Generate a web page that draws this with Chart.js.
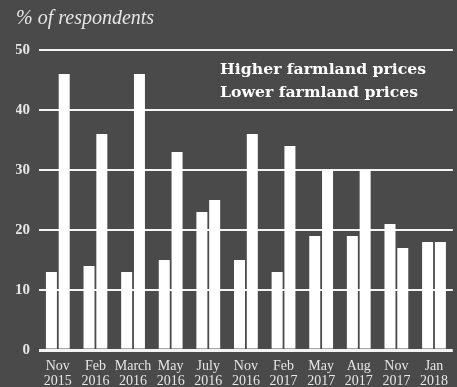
<!DOCTYPE html>
<html>
<head>
<meta charset="utf-8">
<script src="https://cdn.jsdelivr.net/npm/chart.js@4"></script>
<style>
  html, body { margin: 0; padding: 0; background: #4a4a4a; }
  #wrap { width: 457px; height: 387px; }
</style>
</head>
<body>
<div id="wrap"><canvas id="farm"></canvas></div>
<script>
// survey dates
const months = [
  ["Nov", "2015"], ["Feb", "2016"], ["March", "2016"], ["May", "2016"],
  ["July", "2016"], ["Nov", "2016"], ["Feb", "2017"], ["May", "2017"],
  ["Aug", "2017"], ["Nov", "2017"], ["Jan", "2018"],
];
// % of respondents
const higherPrices = [13, 14, 13, 15, 23, 15, 13, 19, 19, 21, 18];
const lowerPrices = [46, 36, 46, 33, 25, 36, 34, 30, 30, 17, 18];
const yTicks = [0, 10, 20, 30, 40, 50];

const textColor = "#e6e6e6";

// legend drawn inside the plot, top right
const innerLegend = {
  id: "innerLegend",
  afterDraw(chart) {
    const ctx = chart.ctx;
    ctx.save();
    ctx.font = "bold 15.7px 'DejaVu Serif'";
    ctx.fillStyle = "#ffffff";
    ctx.textBaseline = "middle";
    chart.data.datasets.forEach((ds, i) => {
      ctx.fillText(ds.label, 220, 70 + i * 23);
    });
    ctx.restore();
  },
};

const farmCtx = document.getElementById("farm").getContext("2d");
const farmChart = new Chart(farmCtx, {
  type: "bar",
  data: {
    labels: months,
    datasets: [
      {
        label: "Higher farmland prices",
        data: higherPrices,
        backgroundColor: "#ffffff",
        barPercentage: 0.86,
        categoryPercentage: 0.68,
      },
      {
        label: "Lower farmland prices",
        data: lowerPrices,
        backgroundColor: "#ffffff",
        barPercentage: 0.86,
        categoryPercentage: 0.68,
      },
    ],
  },
  options: {
    responsive: true,
    maintainAspectRatio: false,
    animation: false,
    layout: { padding: { left: 16, right: 0, top: 0, bottom: 0 } },
    plugins: {
      legend: { display: false },
      tooltip: { enabled: false },
      title: {
        display: true,
        text: "% of respondents",
        align: "start",
        color: textColor,
        font: {
          family: "'Liberation Serif'",
          style: "italic",
          weight: "normal",
          size: 20,
        },
        padding: { top: 7, bottom: 19 },
      },
    },
    scales: {
      x: {
        grid: { display: false, drawTicks: false },
        border: { display: false },
        afterFit: (axis) => {
          axis.height = 37;
        },
        ticks: {
          color: textColor,
          font: { family: "'Liberation Serif'", size: 14, lineHeight: 1.08 },
          padding: 9,
          maxRotation: 0,
          autoSkip: false,
        },
      },
      y: {
        min: 0,
        max: 50,
        afterBuildTicks: (axis) => {
          axis.ticks = yTicks.map((v) => ({ value: v }));
        },
        afterFit: (axis) => {
          axis.width = 23;
        },
        grid: {
          color: "#f4f4f4",
          lineWidth: (c) => (c.tick && c.tick.value === 0 ? 3 : 2),
          drawTicks: false,
        },
        border: { display: false },
        ticks: {
          color: textColor,
          font: { family: "'Liberation Serif'", size: 15, weight: "bold" },
          padding: 9,
        },
      },
    },
  },
  plugins: [innerLegend],
});
</script>
</body>
</html>
